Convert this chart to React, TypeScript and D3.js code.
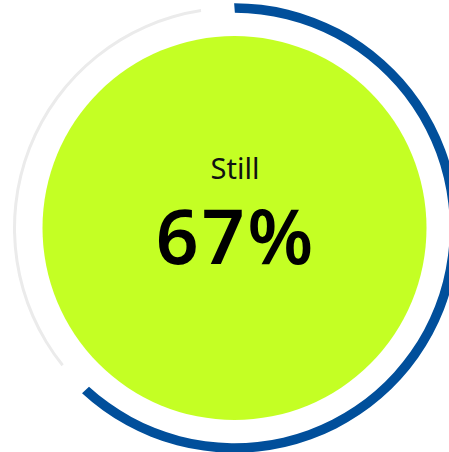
import React, { useEffect, useRef } from "react";
import * as d3 from "d3";

// progress ring values
const segments = ["done", "rest"];
const segmentValues = [65, 35];
const segmentColors = ["#014f9b", "#ebebeb"];
const label = "Still";
const percentText = "67%";

const W = 449;
const H = 452;

export default function App() {
  const ref = useRef<SVGSVGElement>(null);

  useEffect(() => {
    const svg = d3.select(ref.current);
    svg.selectAll("*").remove();

    const cx = 234.5,
      cy = 228,
      r = 220,
      pad = (8.75 * Math.PI) / 180;

    const g = svg.append("g").attr("transform", "translate(" + cx + "," + cy + ")");

    // inner disc
    g.append("circle").attr("r", 192).attr("fill", "#c4ff24");

    const data = segments.map((k, i) => ({ key: k, value: segmentValues[i] }));
    const pie = d3
      .pie<{ key: string; value: number }>()
      .sort(null)
      .value((d) => d.value)
      .startAngle(-pad / 2)
      .endAngle(2 * Math.PI - pad / 2)
      .padAngle(pad);

    const widths = [9.5, 3];
    g.selectAll("path.seg")
      .data(pie(data))
      .enter()
      .append("path")
      .attr("class", "seg")
      .attr("fill", (d, i) => segmentColors[i])
      .attr("d", (d, i) =>
        d3
          .arc<any>()
          .innerRadius(r - widths[i] / 2)
          .outerRadius(r + widths[i] / 2)
          .padRadius(r)(d)
      );

    g.append("text")
      .attr("x", 0.5)
      .attr("y", 178.5 - cy)
      .attr("text-anchor", "middle")
      .attr("font-family", "'Noto Sans', sans-serif")
      .attr("font-size", 29)
      .attr("fill", "#111")
      .text(label);

    g.append("text")
      .attr("x", 1.5)
      .attr("y", 263.5 - cy)
      .attr("text-anchor", "middle")
      .attr("font-family", "'Noto Sans', sans-serif")
      .attr("font-weight", 600)
      .attr("font-size", 75)
      .attr("letter-spacing", 3)
      .attr("fill", "#000")
      .text(percentText);
  }, []);

  return (
    <svg
      ref={ref}
      width={W}
      height={H}
      style={{ position: "absolute", left: 0, top: 0, background: "#fff" }}
    />
  );
}
